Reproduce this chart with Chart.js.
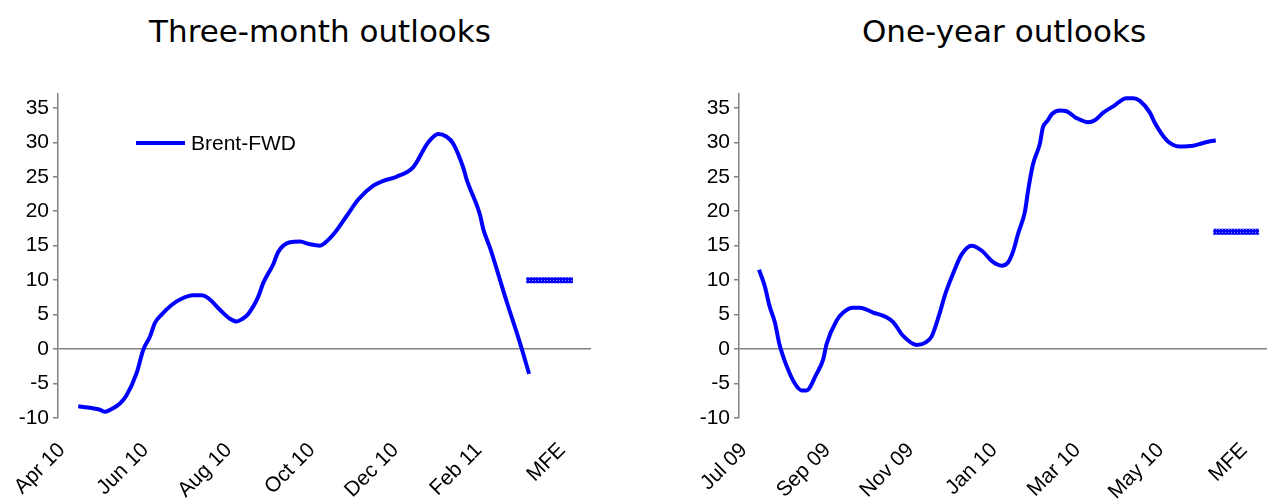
<!DOCTYPE html>
<html>
<head>
<meta charset="utf-8">
<script src="https://cdn.jsdelivr.net/npm/chart.js@4.4.1/dist/chart.umd.min.js"></script>
<style>
	html, body { margin: 0; padding: 0; background: #fff; }
	body { width: 1267px; height: 500px; position: relative; overflow: hidden; }
	.panel { position: absolute; top: 0; height: 500px; }
	.title {
		position: absolute; top: 13px; line-height: 36px;
		font-family: 'DejaVu Sans', sans-serif; font-size: 31px; color: #000;
		white-space: nowrap; transform: translateX(-50%);
	}
</style>
</head>
<body>
<div class="title" style="left:320px">Three-month outlooks</div>
<div class="title" style="left:1004px">One-year outlooks</div>
<div class="panel" style="left:0;width:633px"><canvas id="threeMonthChart"></canvas></div>
<div class="panel" style="left:681px;width:586px"><canvas id="oneYearChart"></canvas></div>
<script>
// x positions are months from the first tick label
const yTicks = [-10, -5, 0, 5, 10, 15, 20, 25, 30, 35];

const threeMonthTicks = ['Apr 10', 'Jun 10', 'Aug 10', 'Oct 10', 'Dec 10', 'Feb 11', 'MFE'];
const threeMonthX = [0.39, 0.91, 1.03, 1.19, 1.39, 1.55, 1.79, 1.95, 2.11, 2.23,
	2.39, 2.63, 2.87, 3.15, 3.35, 3.51, 3.79, 4.03, 4.19, 4.31,
	4.47, 4.71, 4.83, 5.07, 5.19, 5.47, 5.71, 5.95, 6.19, 6.31,
	6.55, 6.83, 7.11, 7.47, 7.71, 8.03, 8.43, 8.79, 9.03, 9.23,
	9.39, 9.63, 9.71, 10.03, 10.11, 10.27, 10.67, 10.99, 11.21];
const threeMonthBrent = [-8.3, -8.8, -9.1, -8.7, -7.9, -6.7, -3.5, -0.1, 1.8, 3.8,
	5.0, 6.4, 7.3, 7.8, 7.8, 7.4, 5.7, 4.4, 4.0, 4.3,
	5.1, 7.6, 9.6, 12.3, 14.1, 15.5, 15.6, 15.2, 15.0, 15.4,
	16.9, 19.3, 21.7, 23.7, 24.4, 25.0, 26.4, 30.0, 31.2, 30.8,
	29.8, 26.3, 24.6, 19.5, 17.4, 14.7, 6.9, 0.9, -3.6];
const threeMonthMfe = 10;
const threeMonthMfeSpan = [11.14, 12.26];

const oneYearTicks = ['Jul 09', 'Sep 09', 'Nov 09', 'Jan 10', 'Mar 10', 'May 10', 'MFE'];
const oneYearX = [0.36, 0.50, 0.61, 0.74, 0.85, 1.02, 1.22, 1.38, 1.50, 1.74,
	1.90, 1.98, 2.22, 2.38, 2.62, 2.78, 3.10, 3.42, 3.58, 3.82,
	4.14, 4.34, 4.50, 4.70, 4.82, 5.02, 5.22, 5.46, 5.70, 5.98,
	6.18, 6.34, 6.46, 6.58, 6.74, 6.82, 6.93, 7.10, 7.17, 7.28,
	7.39, 7.58, 7.74, 7.98, 8.26, 8.42, 8.62, 8.86, 9.18, 9.34,
	9.50, 9.74, 9.86, 10.14, 10.30, 10.46, 10.78, 11.02, 11.32];
const oneYearBrent = [11.5, 9.1, 6.3, 3.9, 0.7, -2.4, -5.0, -6.0, -6.0, -3.6,
	-1.5, 0.7, 4.1, 5.3, 6.0, 6.0, 5.3, 4.6, 3.9, 1.9,
	0.6, 0.9, 1.8, 5.3, 7.8, 11.0, 13.7, 15.0, 14.3, 12.6,
	12.1, 12.6, 14.2, 16.8, 19.9, 23.1, 26.7, 29.8, 32.1, 33.1,
	34.1, 34.6, 34.5, 33.5, 32.9, 33.2, 34.3, 35.2, 36.4, 36.4,
	36.0, 34.3, 32.8, 30.3, 29.6, 29.4, 29.5, 29.9, 30.3];
const oneYearMfe = 17;
const oneYearMfeSpan = [11.26, 12.36];

const axisGrey = '#808080';
const tickFont = { family: "'Liberation Sans', Arial, sans-serif", size: 21 };

function mfePattern() {
	const c = document.createElement('canvas');
	c.width = 3;
	c.height = 3;
	const g = c.getContext('2d');
	g.fillStyle = '#0000ff';
	g.fillRect(0, 0, 3, 3);
	g.fillStyle = '#8c8cff';
	g.fillRect(1, 1, 1, 1);
	return g.createPattern(c, 'repeat');
}

// legend drawn inside the plot area, like the spreadsheet original
const insideLegend = {
	id: 'insideLegend',
	afterDraw(chart, args, opts) {
		if (!opts.show) {
			return;
		}
		const ds = chart.data.datasets[0];
		const ctx = chart.ctx;
		ctx.save();
		ctx.strokeStyle = ds.borderColor;
		ctx.lineWidth = ds.borderWidth;
		ctx.beginPath();
		ctx.moveTo(opts.x, opts.y);
		ctx.lineTo(opts.x + 49, opts.y);
		ctx.stroke();
		ctx.fillStyle = '#000';
		ctx.font = "21px 'Liberation Sans', Arial, sans-serif";
		ctx.textBaseline = 'middle';
		ctx.fillText(ds.label, opts.x + 55, opts.y + 1);
		ctx.restore();
	},
};

function renderOutlook(canvas, cfg) {
	const line = cfg.xs.map((x, i) => ({ x, y: cfg.ys[i] }));
	const mfe = cfg.mfeSpan.map((x) => ({ x, y: cfg.mfe }));
	// eslint-disable-next-line no-new
	new Chart(canvas, {
		type: 'line',
		data: {
			datasets: [
				{
					label: 'Brent-FWD',
					data: line,
					borderColor: '#0000ff',
					borderWidth: 4,
					pointRadius: 0,
					cubicInterpolationMode: 'monotone',
					borderJoinStyle: 'round',
				},
				{
					label: 'MFE',
					data: mfe,
					borderColor: mfePattern(),
					borderWidth: 6,
					pointRadius: 0,
					borderCapStyle: 'butt',
				},
			],
		},
		options: {
			responsive: true,
			maintainAspectRatio: false,
			animation: false,
			layout: { padding: { top: 94, right: cfg.padRight, left: 0, bottom: 0 } },
			plugins: {
				legend: { display: false },
				tooltip: { enabled: false },
				insideLegend: cfg.legend,
			},
			scales: {
				x: {
					type: 'linear',
					min: cfg.xMin,
					max: cfg.xMax,
					afterBuildTicks: (s) => { s.ticks = cfg.ticks.map((t, i) => ({ value: i * 2 })); },
					afterFit: (s) => {
						s.height = 82;
						s.paddingLeft = 0;
						s.paddingRight = 0;
					},
					grid: { display: false, drawTicks: false },
					border: { display: false },
					ticks: {
						autoSkip: false,
						minRotation: 45,
						maxRotation: 45,
						padding: 20,
						color: '#000',
						font: tickFont,
						callback: (v, i) => cfg.ticks[i],
					},
				},
				y: {
					min: -10,
					max: 37,
					afterBuildTicks: (s) => { s.ticks = yTicks.map((v) => ({ value: v })); },
					afterFit: (s) => { s.width = 58; },
					grid: {
						color: (c) => (c.tick && c.tick.value === 0 ? axisGrey : 'rgba(0,0,0,0)'),
						tickColor: axisGrey,
						tickLength: 5,
						lineWidth: 1.5,
					},
					border: { color: axisGrey, width: 1.5 },
					ticks: { color: '#000', font: tickFont, padding: 4 },
				},
			},
		},
		plugins: [insideLegend],
	});
}

renderOutlook(document.getElementById('threeMonthChart'), {
	xs: threeMonthX, ys: threeMonthBrent, mfe: threeMonthMfe, mfeSpan: threeMonthMfeSpan,
	ticks: threeMonthTicks, xMin: -0.096, xMax: 12.695, padRight: 42,
	legend: { show: true, x: 136, y: 143 },
});
renderOutlook(document.getElementById('oneYearChart'), {
	xs: oneYearX, ys: oneYearBrent, mfe: oneYearMfe, mfeSpan: oneYearMfeSpan,
	ticks: oneYearTicks, xMin: -0.12, xMax: 12.55, padRight: 0,
	legend: { show: false },
});
</script>
</body>
</html>
